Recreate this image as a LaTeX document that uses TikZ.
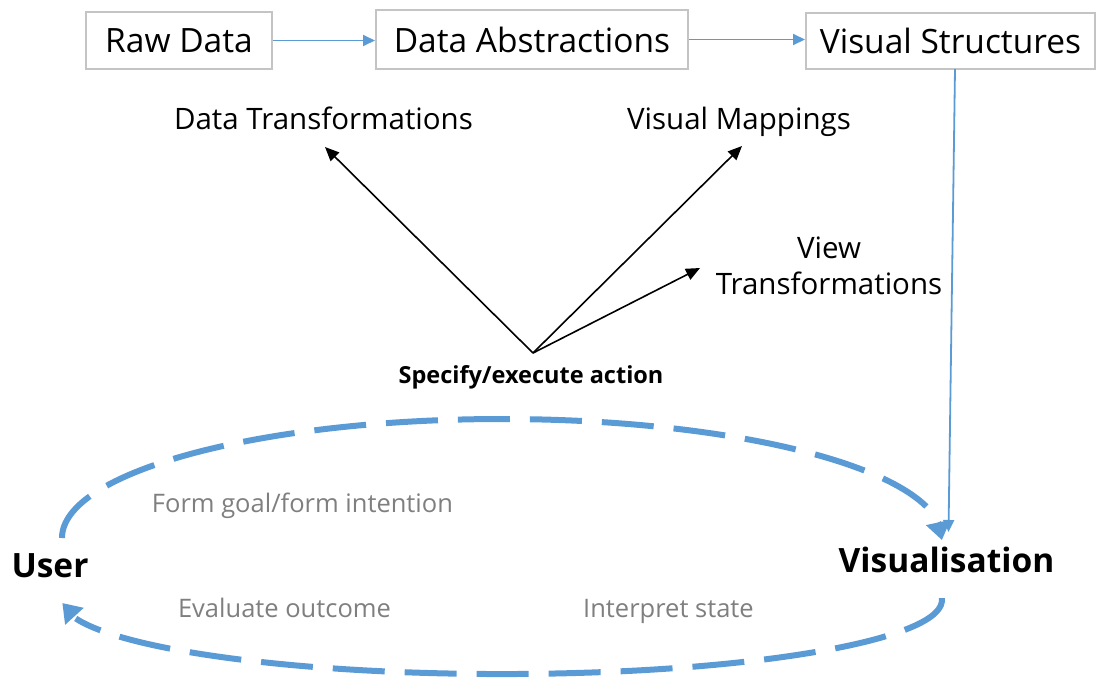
\documentclass[tikz,border=0pt]{standalone}
\usepackage{fontspec}
\setmainfont{Open Sans}
\usetikzlibrary{arrows.meta,bending}
\definecolor{flowblue}{HTML}{5B9BD5}
\definecolor{boxgray}{HTML}{C4C4C4}
\definecolor{labelgray}{HTML}{7F7F7F}
\tikzset{
  stagebox/.style={draw=boxgray, line width=2pt, inner sep=0pt, font=\fontsize{33.5}{40}\selectfont},
  flowarrow/.style={draw=flowblue, line width=1.8pt, -{Triangle[length=12pt,width=11pt]}},
  oparrow/.style={draw=black, line width=1.6pt, -{Triangle[length=14pt,width=12pt]}},
  oplabel/.style={anchor=base, inner sep=0pt, font=\fontsize{29.5}{36}\selectfont},
  actlabel/.style={anchor=base, inner sep=0pt, font=\bfseries\fontsize{23.5}{28}\selectfont},
  actor/.style={anchor=base, inner sep=0pt, font=\bfseries\fontsize{33.5}{40}\selectfont},
  phase/.style={anchor=base, inner sep=0pt, text=labelgray, font=\fontsize{25.5}{30}\selectfont},
  cyclearc/.style={draw=flowblue, line width=6pt, dash pattern=on 52pt off 20pt,
    -{Triangle[length=18pt,width=24pt,flex]}}
}
\begin{document}
\begin{tikzpicture}[x=1pt,y=1pt]
\useasboundingbox (0,0) rectangle (1097,-678);

% pipeline stages
\node[stagebox, minimum width=186pt, minimum height=57pt] (raw) at (179,-40.5) {Raw Data};
\node[stagebox, minimum width=312pt, minimum height=59pt] (abs) at (532,-39.5) {Data Abstractions};
\node[stagebox, minimum width=289pt, minimum height=56pt] (vs) at (950.5,-41) {Visual Structures};

\draw[flowarrow] (raw.east) -- (raw.east -| abs.west);
\draw[flowarrow] (abs.east) -- (abs.east -| vs.west);

% user actions
\node[oplabel] (dt) at (323.5,-129) {Data Transformations};
\node[oplabel] (vm) at (739,-129) {Visual Mappings};
\node[oplabel, align=center] (vt) at (829,-294) {View\\Transformations};
\node[actlabel] (act) at (531,-383) {Specify/execute action};

\coordinate (apex) at (533,-353);
\coordinate (dtTip) at (325,-147);
\coordinate (vmTip) at (742,-146);
\coordinate (vtTip) at (700,-268);
\draw[oparrow] (apex) -- (dtTip);
\draw[oparrow] (apex) -- (vmTip);
\draw[oparrow] (apex) -- (vtTip);

% actors
\node[actor] (user) at (50,-577) {User};
\node[actor] (visu) at (946.5,-572) {Visualisation};

% structures feed the visualisation
\coordinate (vsOut) at (955,-69);
\coordinate (visIn) at (948.5,-532);
\draw[flowarrow] (vsOut) -- (visIn);

% interaction cycle
\draw[cyclearc] (62,-538) arc[start angle=180, end angle=-1, x radius=440, y radius=119];
\draw[cyclearc] (941.8,-598.1) arc[start angle=1.5, end angle=-177.7, x radius=440, y radius=74];

\node[phase] (goal) at (302.5,-512) {Form goal/form intention};
\node[phase] (eval) at (284.5,-617) {Evaluate outcome};
\node[phase] (interp) at (668.5,-617) {Interpret state};
\end{tikzpicture}
\end{document}
